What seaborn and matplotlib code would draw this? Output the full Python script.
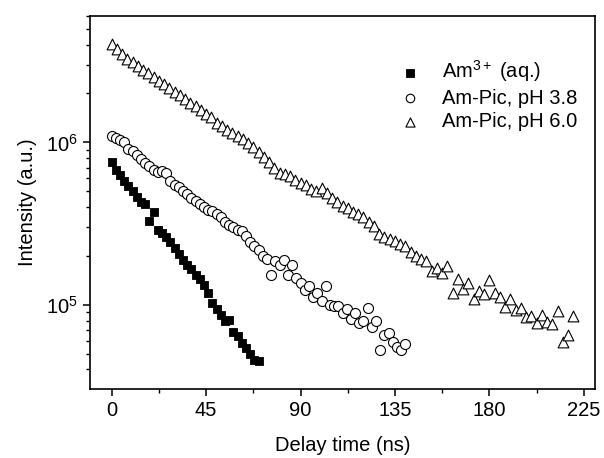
import matplotlib
matplotlib.use("Agg")
import matplotlib.pyplot as plt
import matplotlib.ticker as mticker
import seaborn as sns
import pandas as pd

sns.set_style("ticks")
plt.rcParams['font.family'] = ['Liberation Sans', 'DejaVu Sans']
plt.rcParams['mathtext.fontset'] = 'custom'
plt.rcParams['mathtext.rm'] = 'Liberation Sans'
plt.rcParams['mathtext.it'] = 'Liberation Sans:italic'
plt.rcParams['mathtext.bf'] = 'Liberation Sans:bold'
plt.rcParams['text.color'] = 'black'
plt.rcParams['axes.labelcolor'] = 'black'
plt.rcParams['xtick.color'] = 'black'
plt.rcParams['ytick.color'] = 'black'

# Am3+ (aq.)
t_aq = [0, 2, 4, 6, 8, 10, 12, 14, 16, 18, 20, 22, 24, 26, 28, 30, 32, 34, 36,
        38, 40, 42, 44, 46, 48, 50, 52, 54, 56, 58, 60, 62, 64, 66, 68, 70]
i_aq = [7.6e5, 6.8e5, 6.3e5, 5.8e5, 5.4e5, 5.0e5, 4.6e5, 4.3e5, 4.2e5, 3.3e5,
        3.75e5, 2.9e5, 2.75e5, 2.6e5, 2.45e5, 2.25e5, 2.05e5, 1.9e5, 1.75e5,
        1.65e5, 1.52e5, 1.45e5, 1.33e5, 1.18e5, 1.02e5, 9.4e4, 8.6e4, 7.9e4,
        8.1e4, 6.8e4, 6.4e4, 5.8e4, 5.4e4, 5.0e4, 4.6e4, 4.5e4]

# Am-Pic, pH 3.8
t_38 = [0, 2, 4, 6, 8, 10, 12, 14, 16, 18, 20, 22, 24, 26, 28, 30, 32, 34, 36,
        38, 40, 42, 44, 46, 48, 50, 52, 54, 56, 58, 60, 62, 64, 66, 68, 70, 72,
        74, 76, 78, 80, 82, 84, 86, 88, 90, 92, 94, 96, 98, 100, 102, 104, 106,
        108, 110, 112, 114, 116, 118, 120, 122, 124, 126, 128, 130, 132, 134,
        136, 138, 140]
i_38 = [1.09e6, 1.06e6, 1.03e6, 1.0e6, 9.1e5, 8.8e5, 8.4e5, 7.9e5, 7.5e5, 7.2e5,
        6.8e5, 6.6e5, 6.7e5, 6.5e5, 5.75e5, 5.5e5, 5.3e5, 5.0e5, 4.8e5, 4.55e5,
        4.35e5, 4.15e5, 4.0e5, 3.85e5, 3.76e5, 3.6e5, 3.45e5, 3.25e5, 3.1e5,
        3.0e5, 2.9e5, 2.83e5, 2.64e5, 2.45e5, 2.3e5, 2.18e5, 2.0e5, 1.91e5,
        1.53e5, 1.85e5, 1.77e5, 1.89e5, 1.53e5, 1.77e5, 1.46e5, 1.36e5, 1.24e5,
        1.31e5, 1.12e5, 1.18e5, 1.05e5, 1.31e5, 9.9e4, 9.8e4, 9.8e4, 8.9e4,
        9.4e4, 8.2e4, 8.9e4, 7.7e4, 7.9e4, 9.5e4, 7.3e4, 7.9e4, 5.3e4, 6.5e4,
        6.7e4, 5.9e4, 5.5e4, 5.3e4, 5.75e4]

# Am-Pic, pH 6.0
t_60 = [0, 2.5, 5, 7.5, 10, 12.5, 15, 17.5, 20, 22.5, 25, 27.5, 30, 32.5, 35,
        37.5, 40, 42.5, 45, 47.5, 50, 52.5, 55, 57.5, 60, 62.5, 65, 67.5, 70,
        72.5, 75, 77.5, 80, 82.5, 85, 87.5, 90, 92.5, 95, 97.5, 100, 102.5, 105,
        107.5, 110, 112.5, 115, 117.5, 120, 122.5, 125, 127.5, 130, 132.5, 135,
        137.5, 140, 142.5, 145, 147.5, 150, 152.5, 155, 157.5, 160, 162.5, 165,
        167.5, 170, 172.5, 175, 177.5, 180, 182.5, 185, 187.5, 190, 192.5, 195,
        197.5, 200, 202.5, 205, 207.5, 210, 212.5, 215, 217.5, 220]
i_60 = [4.06e6, 3.78e6, 3.50e6, 3.28e6, 3.12e6, 2.97e6, 2.80e6, 2.66e6, 2.53e6,
        2.40e6, 2.29e6, 2.17e6, 2.05e6, 1.96e6, 1.86e6, 1.76e6, 1.68e6, 1.58e6,
        1.50e6, 1.44e6, 1.32e6, 1.26e6, 1.20e6, 1.14e6, 1.10e6, 1.05e6, 9.9e5,
        9.3e5, 8.7e5, 8.1e5, 7.6e5, 7.0e5, 6.45e5, 6.35e5, 6.2e5, 5.9e5, 5.65e5,
        5.45e5, 5.15e5, 5.0e5, 5.2e5, 4.9e5, 4.55e5, 4.3e5, 4.05e5, 3.95e5,
        3.75e5, 3.6e5, 3.45e5, 3.25e5, 3.05e5, 2.72e5, 2.62e5, 2.55e5, 2.47e5,
        2.38e5, 2.29e5, 2.12e5, 2.0e5, 1.92e5, 1.85e5, 1.62e5, 1.68e5, 1.58e5,
        1.74e5, 1.19e5, 1.44e5, 1.25e5, 1.37e5, 1.08e5, 1.21e5, 1.17e5, 1.43e5,
        1.18e5, 1.12e5, 9.7e4, 1.09e5, 9.3e4, 9.5e4, 8.4e4, 8.5e4, 7.7e4, 8.6e4,
        7.8e4, 7.6e4, 9.1e4, 5.9e4, 6.5e4, 8.5e4]

labels = [r"Am$^{3+}$ (aq.)", "Am-Pic, pH 3.8", "Am-Pic, pH 6.0"]

FS = 14.5

fig = plt.figure(figsize=(6.04, 4.58), dpi=100)
ax = fig.add_axes([90 / 604, 1 - 389 / 458, 505 / 604, 373 / 458])

sns.scatterplot(x=t_aq, y=i_aq, ax=ax, marker="s", s=36, color="black",
                edgecolor="black", linewidth=0.6, label=labels[0])
sns.scatterplot(x=t_38, y=i_38, ax=ax, marker="o", s=52, facecolor="white",
                edgecolor="black", linewidth=0.8, label=labels[1])
sns.scatterplot(x=t_60, y=i_60, ax=ax, marker="^", s=60, facecolor="white",
                edgecolor="black", linewidth=0.8, label=labels[2])

ax.set_yscale("log")
ax.set_xlim(-10.3, 230.3)
ax.set_ylim(3.03e4, 6.0e6)
ax.xaxis.set_major_locator(mticker.MultipleLocator(45))
ax.xaxis.set_minor_locator(mticker.MultipleLocator(22.5))
ax.yaxis.set_major_locator(mticker.LogLocator(base=10, numticks=10))
ax.yaxis.set_minor_locator(mticker.LogLocator(base=10, subs=range(2, 10), numticks=20))
ax.yaxis.set_minor_formatter(mticker.NullFormatter())

for s in ax.spines.values():
    s.set_linewidth(1.2)
    s.set_color("black")
ax.tick_params(which="major", direction="out", length=5, width=1.1, labelsize=FS,
               colors="black", pad=4)
ax.tick_params(which="minor", direction="out", length=3, width=1.0)

ax.set_xlabel("Delay time (ns)", fontsize=FS, labelpad=11)
ax.set_ylabel("Intensity (a.u.)", fontsize=FS, labelpad=6)

leg = ax.legend(loc="upper right", bbox_to_anchor=(1.0, 0.935), frameon=False,
                fontsize=FS, handletextpad=0.55, labelspacing=0.22,
                markerscale=0.85, borderaxespad=0.5)

fig.savefig("out.png", dpi=100)
